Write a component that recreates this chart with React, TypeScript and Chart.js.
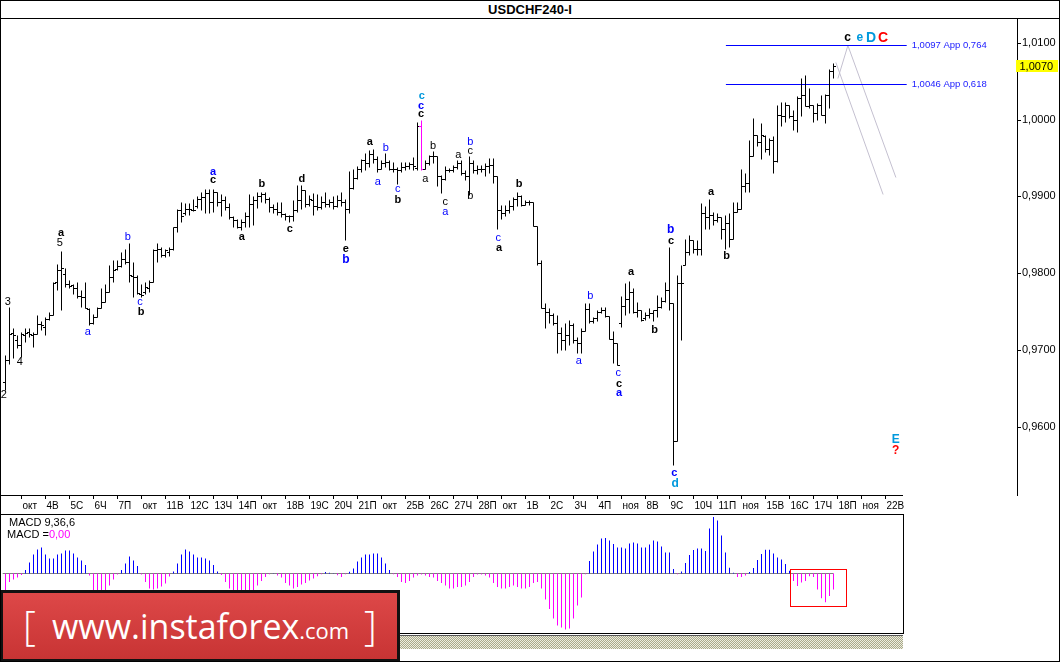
import React, { useEffect, useRef } from 'react';
import { Chart, registerables } from 'chart.js';

Chart.register(...registerables);

// ---------- data ----------
const dayLabels = ['окт','4В','5С','6Ч','7П','окт','11В','12С','13Ч','14П','окт','18В','19С','20Ч','21П','окт','25В','26С','27Ч','28П','окт','1В','2С','3Ч','4П','ноя','8В','9С','10Ч','11П','ноя','15В','16С','17Ч','18П','ноя','22В'];
const firstDayBar = 4;
const barsPerDay = 6;

const opens = [
0.9658,0.9687,0.9722,0.9713,0.9706,0.9720,0.9723,0.9719,0.9721,0.9734,
0.9730,0.9740,0.9745,0.9789,0.9804,0.9799,0.9786,0.9784,0.9780,0.9770,
0.9769,0.9753,0.9735,0.9743,0.9755,0.9763,0.9776,0.9795,0.9805,0.9809,
0.9819,0.9815,0.9796,0.9795,0.9773,0.9776,0.9781,0.9789,0.9830,0.9832,
0.9824,0.9828,0.9831,0.9860,0.9882,0.9878,0.9883,0.9882,0.9887,0.9897,
0.9899,0.9904,0.9893,0.9906,0.9893,0.9895,0.9886,0.9873,0.9869,0.9860,
0.9866,0.9875,0.9890,0.9895,0.9901,0.9903,0.9897,0.9886,0.9884,0.9880,
0.9877,0.9875,0.9875,0.9882,0.9895,0.9908,0.9890,0.9895,0.9888,0.9886,
0.9893,0.9890,0.9893,0.9888,0.9895,0.9893,0.9884,0.9911,0.9924,0.9936,
0.9947,0.9943,0.9955,0.9949,0.9936,0.9943,0.9945,0.9936,0.9936,0.9934,
0.9938,0.9940,0.9942,0.9937,0.9992,0.9936,0.9944,0.9952,0.9952,0.9926,
0.9923,0.9934,0.9934,0.9938,0.9944,0.9930,0.9927,0.9943,0.9934,0.9935,
0.9936,0.9939,0.9941,0.9926,0.9882,0.9878,0.9882,0.9887,0.9897,0.9900,
0.9889,0.9893,0.9892,0.9861,0.9813,0.9754,0.9750,0.9746,0.9735,0.9722,
0.9713,0.9719,0.9732,0.9713,0.9709,0.9725,0.9753,0.9737,0.9741,0.9750,
0.9752,0.9744,0.9714,0.9709,0.9735,0.9757,0.9766,0.9776,0.9750,0.9752,
0.9742,0.9745,0.9748,0.9752,0.9756,0.9764,0.9778,0.9761,0.9581,0.9787,
0.9811,0.9828,0.9843,0.9832,0.9832,0.9878,0.9873,0.9876,0.9869,0.9873,
0.9858,0.9865,0.9845,0.9880,0.9884,0.9913,0.9917,0.9952,0.9980,0.9971,
0.9978,0.9962,0.9973,0.9946,1.0006,1.0004,1.0019,1.0004,0.9999,1.0028,
1.0032,1.0017,1.0019,1.0008,1.0019,1.0006,1.0032,1.0063
];
const highs = [
0.9693,0.9756,0.9728,0.9719,0.9723,0.9728,0.9728,0.9723,0.9745,0.9737,
0.9743,0.9750,0.9789,0.9812,0.9829,0.9806,0.9791,0.9786,0.9789,0.9778,
0.9789,0.9754,0.9747,0.9756,0.9780,0.9786,0.9810,0.9817,0.9817,0.9828,
0.9832,0.9839,0.9815,0.9797,0.9786,0.9789,0.9791,0.9832,0.9839,0.9834,
0.9832,0.9834,0.9860,0.9883,0.9893,0.9891,0.9891,0.9896,0.9900,0.9905,
0.9909,0.9909,0.9909,0.9906,0.9903,0.9900,0.9891,0.9874,0.9871,0.9870,
0.9880,0.9903,0.9901,0.9906,0.9906,0.9905,0.9899,0.9890,0.9893,0.9893,
0.9878,0.9876,0.9895,0.9915,0.9915,0.9908,0.9902,0.9904,0.9903,0.9900,
0.9905,0.9897,0.9900,0.9902,0.9906,0.9896,0.9933,0.9936,0.9939,0.9949,
0.9956,0.9960,0.9961,0.9953,0.9947,0.9956,0.9947,0.9945,0.9938,0.9945,
0.9945,0.9945,0.9951,0.9997,0.9999,0.9947,0.9954,0.9959,0.9952,0.9928,
0.9939,0.9937,0.9941,0.9947,0.9947,0.9934,0.9952,0.9947,0.9941,0.9941,
0.9943,0.9950,0.9950,0.9926,0.9889,0.9889,0.9895,0.9899,0.9906,0.9902,
0.9895,0.9895,0.9893,0.9861,0.9817,0.9761,0.9754,0.9748,0.9746,0.9730,
0.9735,0.9739,0.9735,0.9717,0.9728,0.9761,0.9761,0.9743,0.9752,0.9756,
0.9756,0.9744,0.9724,0.9709,0.9770,0.9787,0.9790,0.9780,0.9763,0.9752,
0.9750,0.9754,0.9752,0.9771,0.9769,0.9789,0.9834,0.9761,0.9798,0.9811,
0.9845,0.9850,0.9843,0.9843,0.9891,0.9887,0.9897,0.9880,0.9878,0.9873,
0.9876,0.9878,0.9893,0.9893,0.9936,0.9930,0.9973,1.0002,0.9980,0.9995,
0.9980,0.9976,0.9978,1.0019,1.0023,1.0023,1.0019,1.0012,1.0030,1.0054,
1.0058,1.0041,1.0019,1.0021,1.0032,1.0033,1.0066,1.0073
];
const lows = [
0.9648,0.9682,0.9689,0.9702,0.9691,0.9710,0.9717,0.9704,0.9721,0.9726,
0.9719,0.9739,0.9745,0.9778,0.9752,0.9782,0.9780,0.9773,0.9767,0.9756,
0.9754,0.9732,0.9734,0.9743,0.9754,0.9763,0.9776,0.9789,0.9804,0.9808,
0.9812,0.9789,0.9769,0.9773,0.9769,0.9773,0.9776,0.9789,0.9815,0.9821,
0.9821,0.9822,0.9830,0.9854,0.9866,0.9876,0.9876,0.9881,0.9885,0.9882,
0.9878,0.9878,0.9880,0.9888,0.9874,0.9882,0.9871,0.9860,0.9859,0.9856,
0.9860,0.9860,0.9862,0.9885,0.9893,0.9891,0.9880,0.9878,0.9876,0.9873,
0.9869,0.9867,0.9868,0.9880,0.9884,0.9886,0.9887,0.9876,0.9882,0.9884,
0.9886,0.9886,0.9884,0.9886,0.9887,0.9843,0.9878,0.9910,0.9922,0.9932,
0.9934,0.9938,0.9943,0.9932,0.9936,0.9938,0.9934,0.9932,0.9916,0.9932,
0.9934,0.9936,0.9934,0.9934,0.9934,0.9935,0.9941,0.9943,0.9913,0.9904,
0.9921,0.9932,0.9931,0.9936,0.9928,0.9921,0.9902,0.9930,0.9929,0.9932,
0.9926,0.9930,0.9917,0.9858,0.9871,0.9874,0.9878,0.9882,0.9887,0.9887,
0.9889,0.9889,0.9861,0.9811,0.9754,0.9728,0.9735,0.9732,0.9696,0.9700,
0.9700,0.9706,0.9709,0.9696,0.9696,0.9724,0.9735,0.9735,0.9737,0.9748,
0.9743,0.9714,0.9683,0.9680,0.9730,0.9745,0.9748,0.9748,0.9743,0.9737,
0.9739,0.9741,0.9737,0.9743,0.9755,0.9763,0.9752,0.9550,0.9581,0.9713,
0.9811,0.9824,0.9826,0.9824,0.9824,0.9858,0.9858,0.9863,0.9867,0.9845,
0.9832,0.9834,0.9845,0.9880,0.9884,0.9906,0.9906,0.9952,0.9965,0.9949,
0.9958,0.9954,0.9930,0.9945,0.9991,0.9997,1.0002,0.9986,0.9984,1.0004,
1.0017,1.0015,0.9997,0.9999,1.0006,0.9995,1.0015,1.0054
];
const closes = [
0.9687,0.9721,0.9719,0.9706,0.9721,0.9722,0.9721,0.9721,0.9734,0.9733,
0.9740,0.9745,0.9787,0.9804,0.9806,0.9786,0.9783,0.9780,0.9770,0.9769,
0.9754,0.9735,0.9743,0.9755,0.9763,0.9776,0.9795,0.9804,0.9809,0.9819,
0.9815,0.9797,0.9795,0.9774,0.9772,0.9782,0.9789,0.9830,0.9832,0.9824,
0.9830,0.9831,0.9860,0.9882,0.9875,0.9883,0.9884,0.9882,0.9897,0.9899,
0.9904,0.9893,0.9906,0.9893,0.9895,0.9886,0.9873,0.9869,0.9860,0.9866,
0.9875,0.9890,0.9895,0.9901,0.9903,0.9897,0.9886,0.9884,0.9880,0.9877,
0.9875,0.9875,0.9882,0.9895,0.9908,0.9890,0.9897,0.9888,0.9886,0.9893,
0.9890,0.9893,0.9888,0.9895,0.9893,0.9884,0.9911,0.9924,0.9936,0.9947,
0.9943,0.9955,0.9949,0.9936,0.9943,0.9945,0.9936,0.9936,0.9934,0.9938,
0.9940,0.9942,0.9940,0.9992,0.9936,0.9944,0.9952,0.9952,0.9926,0.9923,
0.9934,0.9934,0.9938,0.9944,0.9930,0.9927,0.9943,0.9934,0.9935,0.9936,
0.9939,0.9941,0.9926,0.9882,0.9878,0.9882,0.9887,0.9897,0.9900,0.9889,
0.9893,0.9892,0.9861,0.9813,0.9754,0.9750,0.9746,0.9735,0.9722,0.9713,
0.9719,0.9732,0.9713,0.9709,0.9725,0.9753,0.9737,0.9741,0.9750,0.9752,
0.9744,0.9714,0.9709,0.9680,0.9757,0.9766,0.9776,0.9750,0.9752,0.9739,
0.9745,0.9748,0.9752,0.9756,0.9764,0.9778,0.9761,0.9581,0.9787,0.9787,
0.9828,0.9843,0.9832,0.9832,0.9878,0.9873,0.9876,0.9869,0.9873,0.9858,
0.9865,0.9845,0.9880,0.9884,0.9913,0.9917,0.9952,0.9980,0.9971,0.9980,
0.9962,0.9973,0.9946,1.0006,1.0004,1.0019,1.0004,0.9999,1.0028,1.0032,
1.0017,1.0019,1.0008,1.0019,1.0006,1.0032,1.0063,1.0070
];
const highlightBar = 104;

// MACD(9,36,6) histogram, in pips
const macdHist = [
-22,-8.5,-6,-4,-1.4,3.4,11,19,24,26,
19,15,15,19,20,23,23,20,16,13,
8.5,-2,-20,-21,-20,-17,-12,-6,-1,3.4,
10,17,13,7.5,-1,-8.5,-15,-16,-15,-13,
-10,-3,2,10,19,24,22,19,16,16,
15,13,8.5,2,-1.4,-8.5,-15,-22,-24,-25,
-24,-22,-18,-12,-7.5,-3.4,-0.7,0.3,-2,-4,
-9.5,-12,-15,-13.5,-11,-9.5,-7,-5,-2.7,-0.7,
1.4,0.7,0.2,-1.7,-3.4,-0.7,1.7,5,12,16,
19,19,20,20,16,10,3.4,-0.7,-3.4,-8.5,
-9.5,-7.5,-4,-2,-1,-2,-3.4,-4,-7.5,-9.5,
-12,-15,-15,-13.5,-13.5,-12,-8.5,-3.4,-1,-1,
-2,-4,-9.5,-13.5,-15,-15,-13.5,-12,-13.5,-15,
-15,-13.5,-9.5,-8.5,-15,-26,-35.5,-45,-52,-54,
-56,-55,-45,-32,-24,-0.7,12.5,22,29,35,
35.5,33,29.5,26,26,25,30,31,30,26,
26,29,33,32,27,21,21,4.4,-0.7,2,
10.5,18.5,23.5,25,25,22.5,45,56.5,53,38,
21,5.7,0.7,-3.4,-3.4,-2,1.4,5.4,13.5,19.6,
23.7,23.7,20,16,14,9.5,2.7,-7.5,-12.5,-9,
-7.5,-2.7,-3.4,-16,-24.7,-28.7,-22.6,-16
];

const priceTicks = [0.96, 0.97, 0.98, 0.99, 1.0, 1.01];
const fibLevels = [
  { price: 1.0097, text: '1,0097 App 0,764' },
  { price: 1.0046, text: '1,0046 App 0,618' },
];
const fibFrom = 180.1;
const fibTo = 225.3;
const fanLines = [
  [{ x: 210.6, y: 1.0097 }, { x: 222.6, y: 0.9925 }],
  [{ x: 207.6, y: 1.0075 }, { x: 219.4, y: 0.9903 }],
  [{ x: 208.1, y: 1.0054 }, { x: 210.6, y: 1.0097 }],
];
const macdBox = { from: 196, to: 210.1, top: 4.1, bottom: -32.5 };

const K = '#000000', B = '#0000FF', CY = '#0099DD', R = '#FF0000';
// [bar, price, text, colour, bold, size]
const waveLabels: [number, number, string, string, boolean, number][] = [
  [-0.4, 0.9641, '2', K, false, 11], [0.6, 0.9762, '3', K, false, 11], [3.6, 0.9684, '4', K, false, 11],
  [13.6, 0.9839, '5', K, false, 11], [13.9, 0.9852, 'a', K, true, 11],
  [20.6, 0.9723, 'a', B, false, 11], [30.6, 0.9847, 'b', B, false, 11],
  [33.6, 0.9763, 'c', B, false, 11], [33.9, 0.9750, 'b', K, true, 11],
  [51.9, 0.9932, 'a', B, true, 11], [51.9, 0.9921, 'c', K, true, 11],
  [59.1, 0.9847, 'a', K, true, 11], [64.1, 0.9916, 'b', K, true, 11],
  [71.1, 0.9857, 'c', K, true, 11], [74.1, 0.9922, 'd', K, true, 11],
  [85.1, 0.9832, 'e', K, true, 11], [85.1, 0.9817, 'b', B, true, 12],
  [91.1, 0.9971, 'a', K, true, 11], [93.05, 0.9919, 'a', B, false, 11],
  [95.05, 0.99625, 'b', B, false, 11], [98.05, 0.9909, 'c', B, false, 11],
  [98.1, 0.9895, 'b', K, true, 11],
  [103.9, 1.0007, 'c', K, true, 11], [103.9, 1.0018, 'c', B, true, 11], [104.05, 1.0031, 'c', CY, true, 11],
  [106.9, 0.9966, 'b', K, false, 11], [104.95, 0.99225, 'a', K, false, 11],
  [113.2, 0.9954, 'a', K, false, 11], [116.2, 0.9971, 'b', B, false, 11], [116.2, 0.9959, 'c', K, false, 11],
  [109.95, 0.9893, 'c', K, false, 11], [109.95, 0.9880, 'a', B, false, 11], [116.2, 0.9900, 'b', K, false, 11],
  [128.4, 0.9916, 'b', K, true, 11], [123.2, 0.9846, 'c', B, false, 11], [123.4, 0.9833, 'a', K, true, 11],
  [146.2, 0.9770, 'b', B, false, 11], [143.3, 0.9685, 'a', B, false, 11],
  [156.4, 0.9801, 'a', K, true, 11], [153.2, 0.9670, 'c', B, false, 11],
  [153.4, 0.9655, 'c', K, true, 11], [153.4, 0.9644, 'a', B, true, 11],
  [162.3, 0.9726, 'b', K, true, 11], [167.2, 0.9540, 'c', B, true, 11], [167.4, 0.9525, 'd', CY, true, 12],
  [166.3, 0.9856, 'b', B, true, 12], [166.4, 0.9842, 'c', K, true, 11],
  [176.4, 0.9906, 'a', K, true, 11], [180.3, 0.9822, 'b', K, true, 11],
  [210.55, 1.0106, 'c', K, true, 12], [213.6, 1.0106, 'e', CY, true, 12],
  [216.4, 1.0106, 'D', CY, true, 14], [219.4, 1.0106, 'C', R, true, 14],
  [222.55, 0.9583, 'E', CY, true, 12], [222.55, 0.9568, '?', R, true, 12],
];

// ---------- helpers ----------
const FONT = '"Liberation Sans", Arial, sans-serif';
const fmt = (v: number) => v.toFixed(4).replace('.', ',');
const barColors = opens.map((_, i) => (i === highlightBar ? '#FF00FF' : '#000000'));
const macdColors = macdHist.map((v) => (v >= 0 ? '#0000FF' : '#FF00FF'));

const crispPlugin = {
  id: 'crisp',
  beforeDatasetsDraw(chart: any) { chart.ctx.save(); chart.ctx.translate(0, 0.5); },
  afterDatasetsDraw(chart: any) { chart.ctx.restore(); },
};

const overlayPlugin = {
  id: 'overlay',
  afterDraw(chart: any) {
    const { ctx, chartArea } = chart;
    const x = chart.scales.x, y = chart.scales.y;
    ctx.save();
    ctx.textBaseline = 'middle';
    ctx.font = `9.5px ${FONT}`;
    ctx.fillStyle = '#2020FF';
    ctx.textAlign = 'left';
    fibLevels.forEach((f) => {
      ctx.fillText(f.text, x.getPixelForValue(fibTo) + 5, Math.round(y.getPixelForValue(f.price)) + 0.5);
    });
    ctx.textAlign = 'center';
    waveLabels.forEach(([bar, price, text, color, bold, size]) => {
      ctx.font = `${bold ? 'bold ' : ''}${size}px ${FONT}`;
      ctx.fillStyle = color;
      ctx.fillText(text, x.getPixelForValue(bar), y.getPixelForValue(price));
    });
    const last = closes[closes.length - 1];
    const py = Math.round(y.getPixelForValue(last));
    ctx.fillStyle = '#FFFF00';
    ctx.fillRect(chartArea.right - 1, py - 6, 42, 12);
    ctx.fillStyle = '#000';
    ctx.textAlign = 'left';
    ctx.font = `11px ${FONT}`;
    ctx.fillText(fmt(last), chartArea.right + 2.5, py + 0.5);
    ctx.restore();
  },
};

const macdBoxPlugin = {
  id: 'macdBox',
  afterDraw(chart: any) {
    const { ctx } = chart;
    const x = chart.scales.x, y = chart.scales.y;
    const x0 = Math.round(x.getPixelForValue(macdBox.from)) + 0.5;
    const x1 = Math.round(x.getPixelForValue(macdBox.to)) + 0.5;
    const y0 = Math.round(y.getPixelForValue(macdBox.top)) + 0.5;
    const y1 = Math.round(y.getPixelForValue(macdBox.bottom)) + 0.5;
    ctx.save();
    ctx.strokeStyle = '#FF0000';
    ctx.lineWidth = 1;
    ctx.strokeRect(x0, y0, x1 - x0, y1 - y0);
    ctx.restore();
  },
};

export default function App() {
  const mainRef = useRef<HTMLCanvasElement>(null);
  const macdRef = useRef<HTMLCanvasElement>(null);

  useEffect(() => {
    document.body.style.margin = '0';
    const idx = opens.map((_, i) => i);

    const main = new Chart(mainRef.current!, {
      type: 'bar',
      data: {
        datasets: [
          {
            type: 'bar',
            data: idx.map((i) => ({ x: i, y: [lows[i], highs[i]] })) as any,
            backgroundColor: barColors,
            barThickness: 1,
            borderWidth: 0,
            inflateAmount: 0,
            order: 5,
          } as any,
          {
            type: 'scatter',
            data: idx.map((i) => ({ x: i, y: opens[i] })),
            pointStyle: 'dash',
            rotation: 180,
            pointRadius: 2.5,
            borderWidth: 1,
            borderColor: barColors,
            backgroundColor: 'transparent',
            order: 4,
          } as any,
          {
            type: 'scatter',
            data: idx.map((i) => ({ x: i, y: closes[i] })),
            pointStyle: 'dash',
            rotation: 0,
            pointRadius: 2.5,
            borderWidth: 1,
            borderColor: barColors,
            backgroundColor: 'transparent',
            order: 4,
          } as any,
          ...fibLevels.map((f) => ({
            type: 'line',
            data: [{ x: fibFrom, y: f.price }, { x: fibTo, y: f.price }],
            borderColor: '#0000FF',
            borderWidth: 1,
            pointRadius: 0,
            order: 6,
          })),
          ...fanLines.map((l) => ({
            type: 'line',
            data: l,
            borderColor: '#C4C0D0',
            borderWidth: 1,
            pointRadius: 0,
            order: 6,
          })),
        ] as any,
      },
      options: {
        responsive: false,
        animation: false,
        devicePixelRatio: 1,
        events: [],
        layout: { padding: { top: 19, left: 1, right: 0, bottom: 0 }, autoPadding: false } as any,
        plugins: { legend: { display: false }, tooltip: { enabled: false } },
        scales: {
          x: {
            type: 'linear',
            min: -1.125,
            max: 252.875,
            offset: false,
            afterBuildTicks: (s: any) => {
              s.ticks = dayLabels.map((_, d) => ({ value: firstDayBar + barsPerDay * d }));
            },
            afterFit: (s: any) => { s.height = 19; s.paddingLeft = 0; s.paddingRight = 0; },
            ticks: {
              callback: (_v: any, i: number) => dayLabels[i],
              align: 'start',
              labelOffset: 1,
              maxRotation: 0,
              autoSkip: false,
              padding: 1,
              color: '#000',
              font: { family: FONT, size: 10 },
            },
            grid: { drawOnChartArea: false, drawTicks: true, tickLength: 4, color: '#000', offset: false },
            border: { display: false },
          } as any,
          y: {
            type: 'linear',
            position: 'right',
            min: 0.95110677,
            max: 1.01308594,
            alignToPixels: true,
            afterBuildTicks: (s: any) => { s.ticks = priceTicks.map((v) => ({ value: v })); },
            afterFit: (s: any) => { s.width = 43; s.paddingTop = 0; s.paddingBottom = 0; },
            ticks: {
              callback: (v: any) => fmt(Number(v)),
              autoSkip: false,
              padding: 1,
              color: '#000',
              font: { family: FONT, size: 11 },
            },
            grid: { drawOnChartArea: false, drawTicks: true, tickLength: 4, color: '#000' },
            border: { display: true, color: '#000', width: 1 },
          } as any,
        },
      },
      plugins: [crispPlugin, overlayPlugin],
    });

    const macd = new Chart(macdRef.current!, {
      type: 'bar',
      data: {
        datasets: [
          {
            type: 'bar',
            data: macdHist.map((v, i) => ({ x: i, y: v })),
            backgroundColor: macdColors,
            barThickness: 1,
            borderWidth: 0,
            inflateAmount: 0,
            order: 1,
          } as any,
          {
            type: 'line',
            data: [{ x: -0.7, y: 0 }, { x: macdHist.length - 1, y: 0 }],
            borderColor: '#808080',
            borderWidth: 1,
            pointRadius: 0,
            order: 2,
          } as any,
        ],
      },
      options: {
        responsive: false,
        animation: false,
        devicePixelRatio: 1,
        events: [],
        layout: { padding: 0, autoPadding: false } as any,
        plugins: { legend: { display: false }, tooltip: { enabled: false } },
        scales: {
          x: { type: 'linear', display: false, min: -1.125, max: 224.375, offset: false } as any,
          y: { type: 'linear', display: false, min: -59.5, max: 58.5 },
        },
      },
      plugins: [macdBoxPlugin],
    });

    return () => { main.destroy(); macd.destroy(); };
  }, []);

  const abs = (s: React.CSSProperties): React.CSSProperties => ({ position: 'absolute', ...s });

  return (
    <div style={{ position: 'relative', width: 1060, height: 662, background: '#fff', overflow: 'hidden', fontFamily: FONT }}>
      <div style={abs({ left: 0, top: 0, width: 1060, height: 18, borderBottom: '1px solid #000', textAlign: 'center', fontWeight: 'bold', fontSize: 13, lineHeight: '19px', color: '#000' })}>
        USDCHF240-I
      </div>
      <canvas ref={mainRef} width={1060} height={514} style={abs({ left: 0, top: 0, width: 1060, height: 514 })} />
      <div style={abs({ left: 0, top: 495, width: 903, height: 1, background: '#000' })} />
      <div style={abs({ left: 0, top: 514, width: 904, height: 120, border: '1px solid #000', boxSizing: 'border-box' })} />
      <canvas ref={macdRef} width={902} height={118} style={abs({ left: 1, top: 515, width: 902, height: 118 })} />
      <div style={abs({ left: 9, top: 516, fontSize: 11, lineHeight: '13px', color: '#000', whiteSpace: 'nowrap' })}>MACD 9,36,6</div>
      <div style={abs({ left: 7, top: 528, fontSize: 11, lineHeight: '13px', color: '#000', whiteSpace: 'nowrap' })}>
        MACD =<span style={{ color: '#FF00FF' }}>0,00</span>
      </div>
      <div style={abs({ left: 0, top: 635, width: 903, height: 14, borderTop: '1px solid #555', boxSizing: 'border-box',
        backgroundImage: 'repeating-conic-gradient(#a9a98a 0% 25%, #ededdf 0% 50%)', backgroundSize: '2px 2px' })} />
      <div style={abs({ left: 0, top: 590, width: 400, height: 72, boxSizing: 'border-box', border: '3px solid #111',
        background: 'linear-gradient(#dd4848, #c83434)', color: '#fff', fontFamily: '"Open Sans", sans-serif' })}>
        <span style={abs({ left: 20, top: 8, fontSize: 40, fontWeight: 300, lineHeight: '48px' })}>[</span>
        <span style={abs({ left: 49, top: 9, fontSize: 34, lineHeight: '48px', whiteSpace: 'nowrap' })}>
          www.instaforex<span style={{ fontSize: 22 }}>.com</span>
        </span>
        <span style={abs({ left: 361, top: 8, fontSize: 40, fontWeight: 300, lineHeight: '48px' })}>]</span>
      </div>
      <div style={abs({ left: 0, top: 0, width: 1060, height: 662, border: '1px solid #000', boxSizing: 'border-box', pointerEvents: 'none' })} />
    </div>
  );
}
